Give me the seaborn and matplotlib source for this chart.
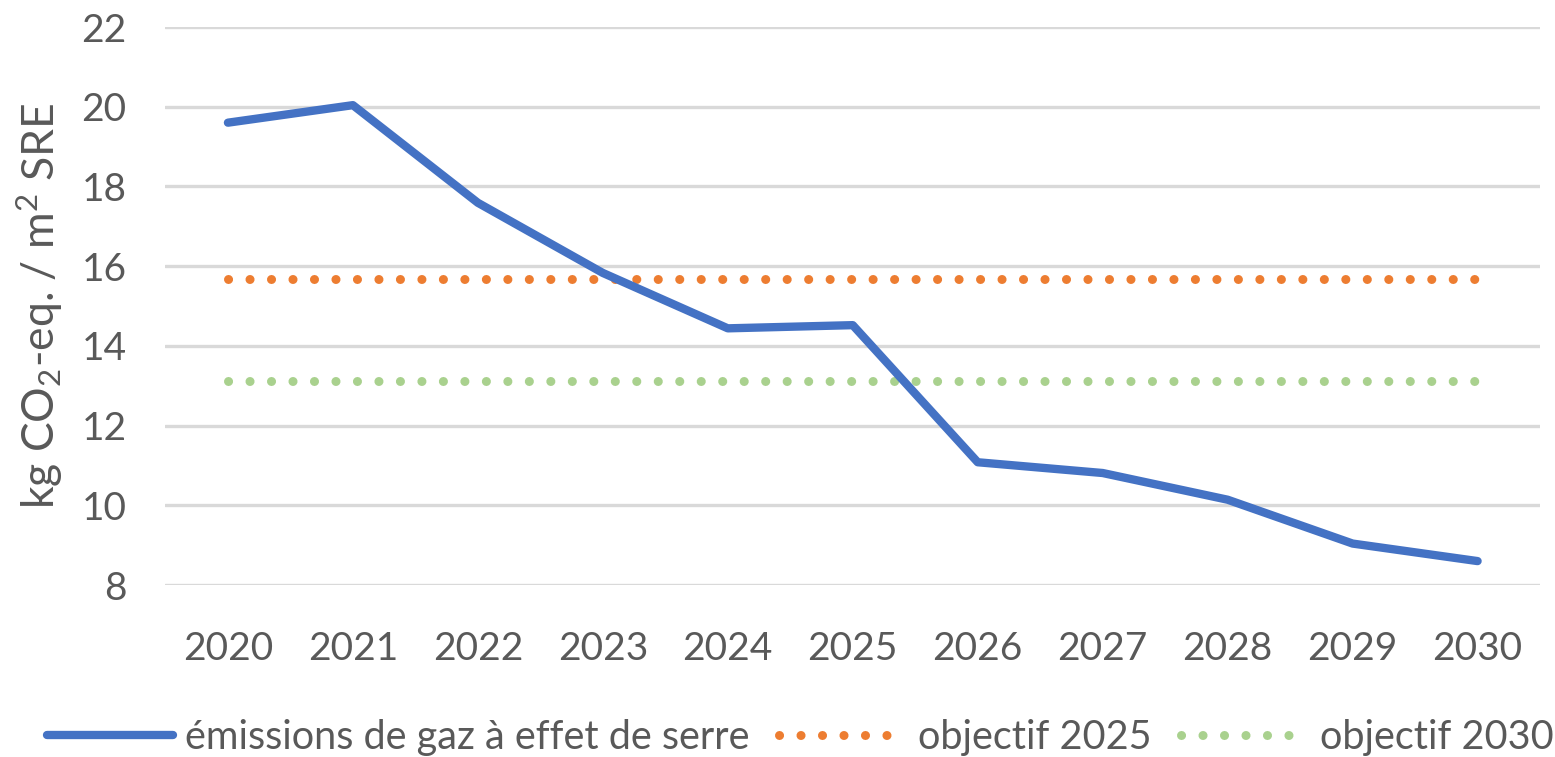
"""Émissions de gaz à effet de serre vs objectifs 2025 / 2030."""

import matplotlib

matplotlib.use("Agg")

import matplotlib.pyplot as plt
import pandas as pd
import seaborn as sns

YEARS = ["2020", "2021", "2022", "2023", "2024", "2025", "2026", "2027", "2028", "2029", "2030"]
EMISSIONS = [19.60, 20.04, 17.59, 15.83, 14.44, 14.52, 11.08, 10.81, 10.14, 9.04, 8.60]
OBJECTIF_2025 = 15.67
OBJECTIF_2030 = 13.13
Y_TICKS = [8, 10, 12, 14, 16, 18, 20, 22]

BLUE = "#4472C4"
ORANGE = "#ED7D31"
GREEN = "#A9D18E"
TEXT = "#595959"
GRID = "#D9D9D9"

sns.set_style("white")
plt.rcParams["font.family"] = ["Lato", "DejaVu Sans"]
plt.rcParams["mathtext.fontset"] = "custom"
plt.rcParams["mathtext.rm"] = "Lato"
plt.rcParams["mathtext.it"] = "Lato"
plt.rcParams["mathtext.bf"] = "Lato"

df = pd.DataFrame(
    {
        "year": YEARS,
        "émissions de gaz à effet de serre": EMISSIONS,
        "objectif 2025": [OBJECTIF_2025] * len(YEARS),
        "objectif 2030": [OBJECTIF_2030] * len(YEARS),
    }
)

fig = plt.figure(figsize=(15.55, 7.57), dpi=100)
ax = fig.add_axes([0.1064, 0.2272, 0.8840, 0.7371])

for y in Y_TICKS:
    ax.axhline(y, color=GRID, lw=2.4, zorder=0)

# round dots, ~21 px apart
dots = (0, (0.01, 2.37))
sns.lineplot(data=df, x="year", y="objectif 2025", ax=ax, color=ORANGE, lw=6.5,
             linestyle=dots, dash_capstyle="round", label="objectif 2025", zorder=2)
sns.lineplot(data=df, x="year", y="objectif 2030", ax=ax, color=GREEN, lw=6.5,
             linestyle=dots, dash_capstyle="round", label="objectif 2030", zorder=2)
sns.lineplot(data=df, x="year", y="émissions de gaz à effet de serre", ax=ax, color=BLUE,
             lw=6, solid_capstyle="round", solid_joinstyle="round",
             label="émissions de gaz à effet de serre", zorder=3)

ax.set_xlim(-0.5, len(YEARS) - 0.5)
ax.set_ylim(8, 22)
ax.set_yticks(Y_TICKS)
ax.tick_params(axis="both", length=0, labelsize=28, colors=TEXT)
ax.tick_params(axis="x", pad=33)
ax.tick_params(axis="y", pad=28)
for spine in ax.spines.values():
    spine.set_visible(False)

ax.set_xlabel("")
ax.set_ylabel(r"kg CO$_2$-eq. / m$^2$ SRE", fontsize=32, color=TEXT, labelpad=12)

handles, labels = ax.get_legend_handles_labels()
order = [2, 0, 1]
ax.legend_.remove()
fig.legend([handles[i] for i in order], [labels[i] for i in order],
           loc="center", bbox_to_anchor=(800 / 1555, 0.026), ncol=3, frameon=False,
           fontsize=28.5, labelcolor=TEXT, handlelength=3.2, handletextpad=0.3,
           columnspacing=0.75)

fig.savefig("out.png", dpi=100)
